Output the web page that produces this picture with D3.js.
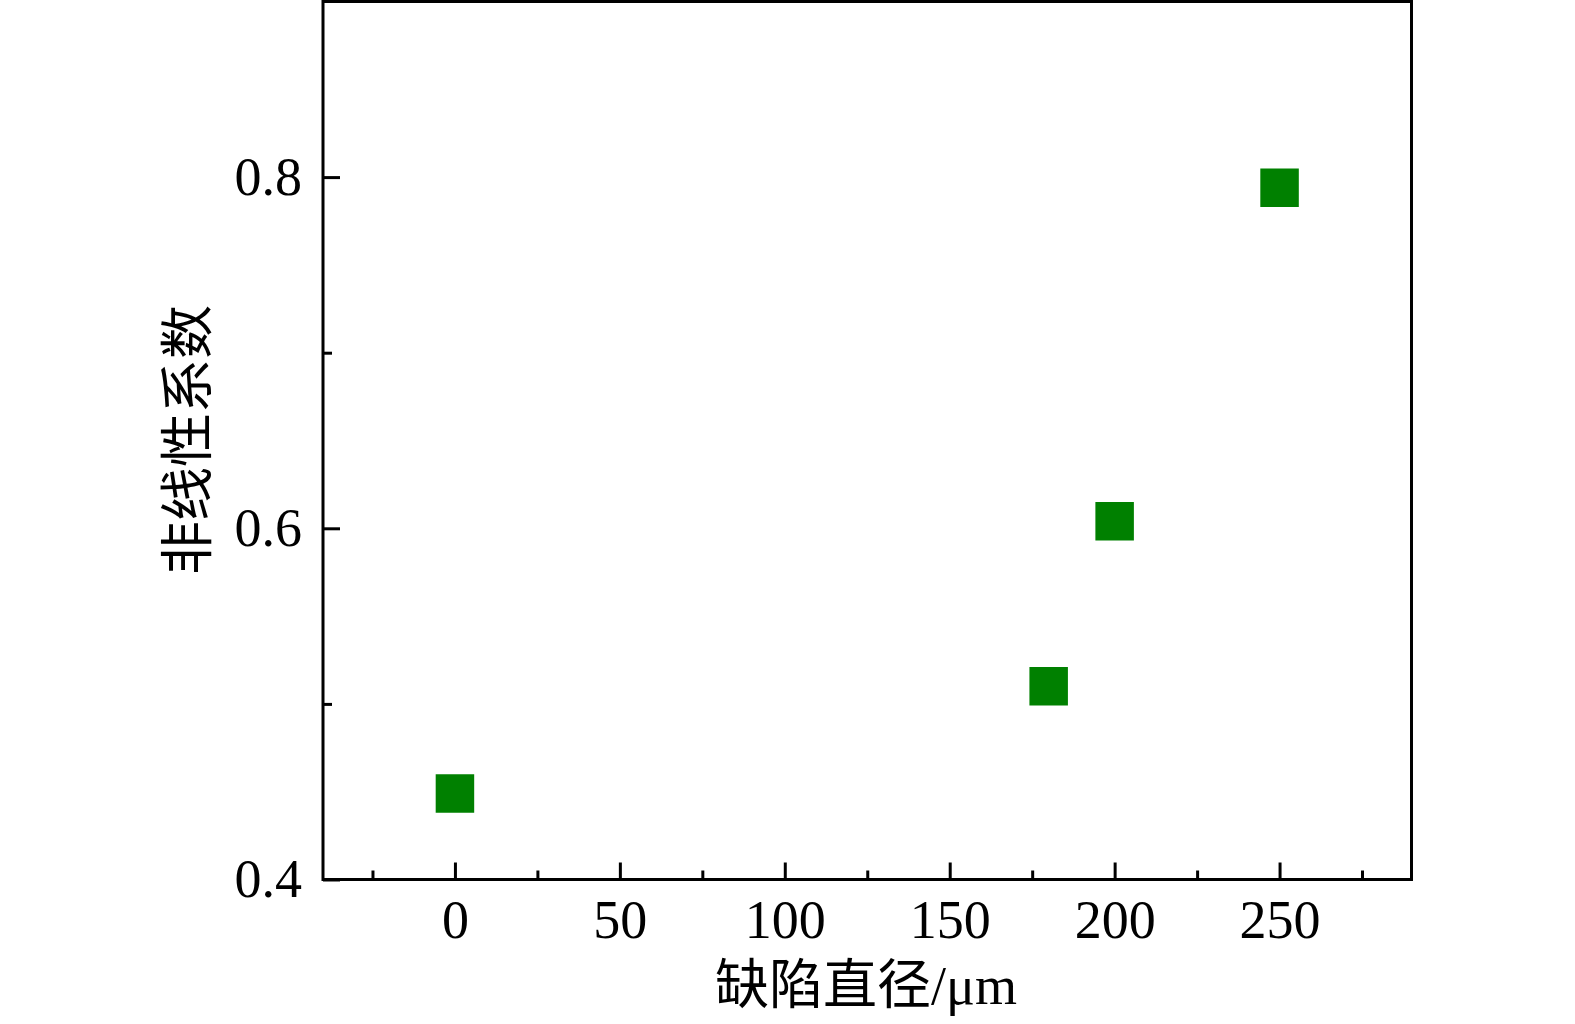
<!DOCTYPE html>
<html>
<head>
<meta charset="utf-8">
<script src="https://cdn.jsdelivr.net/npm/d3@7"></script>
<style>
  html, body { margin: 0; padding: 0; background: #fff; }
  svg { display: block; }
</style>
</head>
<body>
<svg id="chart" width="1575" height="1024"></svg>
<script>
// Data
var diameters = [0, 180, 200, 250];          // 缺陷直径 / μm
var coeffs    = [0.449, 0.510, 0.604, 0.794]; // 非线性系数
var xMajorTicks = [0, 50, 100, 150, 200, 250];
var xMinorTicks = [-25, 25, 75, 125, 175, 225, 275];
var yMajorTicks = [0.4, 0.6, 0.8];
var yMinorTicks = [0.5, 0.7];

var svg = d3.select("#chart"),
    margin = {top: 1.5, left: 323},
    width = 1088.5,
    height = 878,
    g = svg.append("g")
           .attr("transform", "translate(" + margin.left + "," + margin.top + ")");

var latinFont = "'Liberation Serif', 'Times New Roman', serif";
var titleFont = "'Liberation Serif', 'Noto Sans CJK SC', serif";

var x = d3.scaleLinear().domain([-40, 290]).range([0, width]);
var y = d3.scaleLinear().domain([0.4, 0.9]).range([height, 0]);

// Major ticks point inward, labels outside
var xAxis = g.append("g")
    .attr("transform", "translate(0," + height + ")")
    .call(d3.axisBottom(x).tickValues(xMajorTicks).tickSizeInner(-17).tickSizeOuter(0)
            .tickPadding(20).tickFormat(d3.format("d")));

var xMinor = g.append("g")
    .attr("transform", "translate(0," + height + ")")
    .call(d3.axisBottom(x).tickValues(xMinorTicks).tickSizeInner(-9).tickSizeOuter(0)
            .tickFormat(""));

var yAxis = g.append("g")
    .call(d3.axisLeft(y).tickValues(yMajorTicks).tickSizeInner(-17).tickSizeOuter(0)
            .tickPadding(21).tickFormat(d3.format(".1f")));

var yMinor = g.append("g")
    .call(d3.axisLeft(y).tickValues(yMinorTicks).tickSizeInner(-9).tickSizeOuter(0)
            .tickFormat(""));

[xAxis, xMinor, yAxis, yMinor].forEach(function(a) {
  a.select(".domain").remove();
  a.selectAll(".tick line").attr("stroke", "#000").attr("stroke-width", 3);
  a.selectAll(".tick text")
    .attr("fill", "#000")
    .style("font-family", latinFont)
    .style("font-size", "54px");
});

// Frame around the plot
g.append("rect")
  .attr("x", 0)
  .attr("y", 0)
  .attr("width", width)
  .attr("height", height)
  .attr("fill", "none")
  .attr("stroke", "#000")
  .attr("stroke-width", 3);

// Square markers
var square = d3.symbol().type(d3.symbolSquare).size(38.5 * 38.5);
g.selectAll(".pt")
  .data(diameters)
  .enter().append("path")
    .attr("class", "pt")
    .attr("d", square)
    .attr("transform", function(d, i) { return "translate(" + x(d) + "," + y(coeffs[i]) + ")"; })
    .attr("fill", "#008000");

// Axis titles
svg.append("text")
  .attr("x", 866)
  .attr("y", 1004)
  .attr("text-anchor", "middle")
  .attr("fill", "#000")
  .style("font-family", titleFont)
  .style("font-size", "54px")
  .text("缺陷直径/μm");

svg.append("text")
  .attr("transform", "translate(189,440) rotate(-90)")
  .attr("text-anchor", "middle")
  .attr("dominant-baseline", "central")
  .attr("fill", "#000")
  .style("font-family", titleFont)
  .style("font-size", "54px")
  .text("非线性系数");
</script>
</body>
</html>
